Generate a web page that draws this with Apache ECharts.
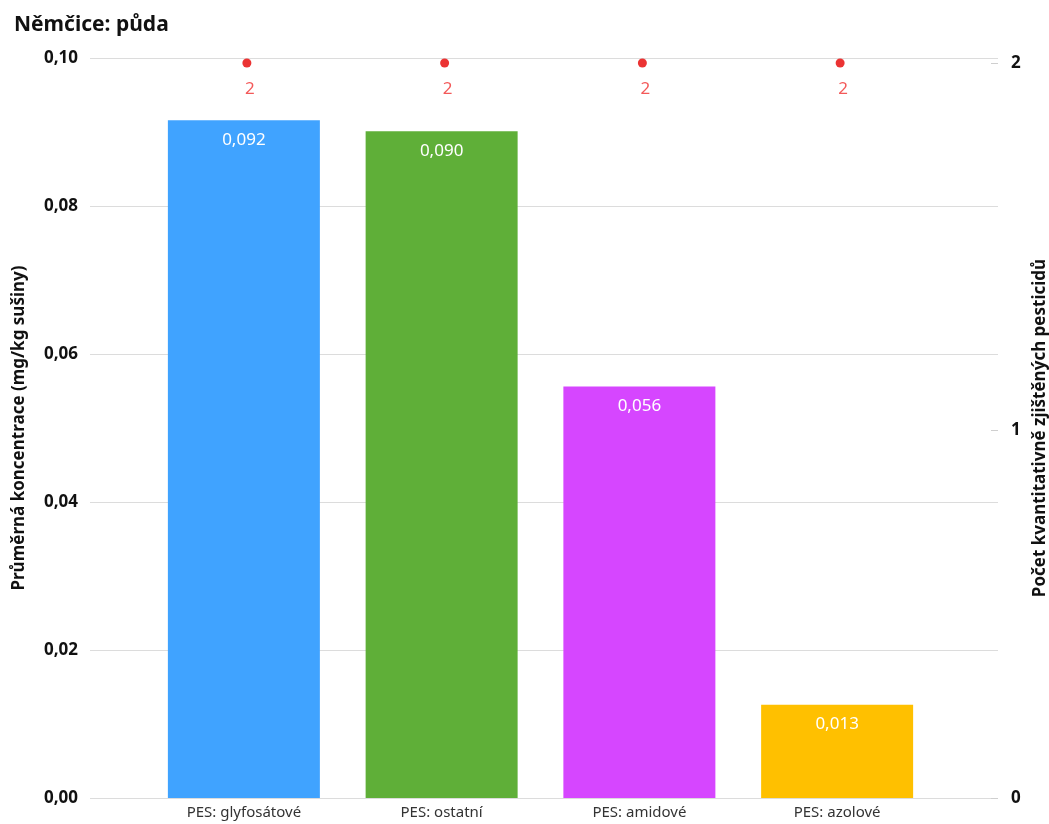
<!DOCTYPE html>
<html>
<head>
<meta charset="utf-8">
<script src="https://cdn.jsdelivr.net/npm/echarts@6/dist/echarts.min.js"></script>
<style>html,body{margin:0;padding:0;background:#fff}#c{width:1049px;height:824px}</style>
</head>
<body>
<div id="c"></div>
<script>
const title = 'Němčice: půda';
const categories = ['PES: glyfosátové', 'PES: ostatní', 'PES: amidové', 'PES: azolové'];
const concentration = [0.0916, 0.0901, 0.0556, 0.0126];
const counts = [2, 2, 2, 2];
const barColors = ['#40A3FF', '#5FAF38', '#D646FF', '#FFC000'];
const leftAxisName = 'Průměrná koncentrace (mg/kg sušiny)';
const rightAxisName = 'Počet kvantitativně zjištěných pesticidů';

const FONT = '"Noto Sans", "Open Sans", sans-serif';
const rightMax = 2.0136;
const chart = echarts.init(document.getElementById('c'));
chart.setOption({
  animation: false,
  textStyle: { fontFamily: FONT },
  title: {
    text: title, left: 9, top: 10,
    textStyle: { fontFamily: FONT, fontSize: 21, fontWeight: 'bold', color: '#111' }
  },
  grid: [
    { left: 90, right: 51, top: 58, bottom: 26, outerBoundsMode: 'none', containLabel: false },
    { left: 145, right: 113, top: 58, bottom: 26, outerBoundsMode: 'none', containLabel: false }
  ],
  xAxis: [
    { type: 'value', gridIndex: 0, show: false, min: 0, max: 1 },
    {
      type: 'category', gridIndex: 1, data: categories,
      axisLine: { show: false }, axisTick: { show: false },
      axisLabel: { color: '#333', fontSize: 15, margin: 7, fontFamily: FONT }
    }
  ],
  yAxis: [
    {
      type: 'value', gridIndex: 0, min: 0, max: 0.1, interval: 0.02,
      name: leftAxisName, nameLocation: 'middle', nameGap: 62, nameRotate: 90,
      nameTextStyle: { fontSize: 17, fontWeight: 'bold', color: '#111', fontFamily: FONT },
      axisLine: { show: false }, axisTick: { show: false },
      axisLabel: { fontSize: 17, fontWeight: 'bold', color: '#111', margin: 12,
        formatter: v => v.toFixed(2).replace('.', ',') },
      splitLine: { lineStyle: { color: '#dcdcdc', width: 1 } }
    },
    {
      type: 'value', gridIndex: 0, position: 'right', min: 0, max: rightMax, interval: 1,
      name: rightAxisName, nameLocation: 'middle', nameGap: 30, nameRotate: 90,
      nameTextStyle: { fontSize: 17, fontWeight: 'bold', color: '#111', fontFamily: FONT },
      axisLine: { show: false },
      axisTick: { show: true, inside: true, length: 7, lineStyle: { color: '#cfcfcf' } },
      axisLabel: { fontSize: 17, fontWeight: 'bold', color: '#111', margin: 13, showMaxLabel: false },
      splitLine: { show: false }
    },
    { type: 'value', gridIndex: 1, min: 0, max: 0.1, show: false },
    { type: 'value', gridIndex: 1, min: 0, max: rightMax, show: false }
  ],
  series: [
    {
      type: 'bar', xAxisIndex: 1, yAxisIndex: 2, barWidth: 152,
      data: concentration.map((v, i) => ({ value: v, itemStyle: { color: barColors[i] } })),
      label: {
        show: true, position: 'insideTop', distance: 11, color: '#fff', fontSize: 17,
        fontFamily: FONT, formatter: p => p.value.toFixed(3).replace('.', ',')
      }
    },
    {
      type: 'scatter', xAxisIndex: 1, yAxisIndex: 3, symbolSize: 9, symbolOffset: [3, 0],
      itemStyle: { color: '#E60000' },
      data: counts,
      label: { show: true, position: 'bottom', distance: 13, offset: [3, 0], color: '#F03030', fontSize: 17, fontFamily: FONT }
    }
  ]
});
</script>
</body>
</html>
